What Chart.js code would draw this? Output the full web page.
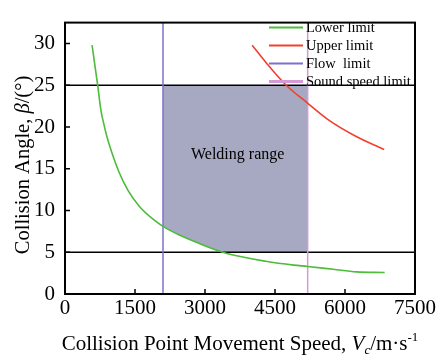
<!DOCTYPE html>
<html>
<head>
<meta charset="utf-8">
<script src="https://cdn.jsdelivr.net/npm/chart.js@4.4.1/dist/chart.umd.min.js"></script>
<style>
	html, body { margin: 0; padding: 0; background: #fff; }
	#wrap { width: 438px; height: 357px; }
</style>
</head>
<body>
<div id="wrap"><canvas id="lineChart"></canvas></div>
<script>
// valores
var lowerX = [580, 660, 700, 770, 830, 900, 1000, 1150, 1350, 1600, 1900, 2100, 2450, 2900, 3250, 3450, 4300, 4900, 5200, 5750, 6250, 6850];
var lowerY = [29.8, 26.6, 25.0, 22.0, 20.4, 18.8, 17.0, 14.7, 12.4, 10.45, 8.9, 8.1, 7.06, 6.0, 5.25, 4.87, 3.92, 3.46, 3.3, 2.96, 2.65, 2.57];
var upperX = [4010, 4310, 4740, 5190, 5660, 6230, 6840];
var upperY = [29.8, 27.7, 25.0, 22.9, 20.8, 18.9, 17.3];
var flowLimit = 2100;
var soundLimit = 5200;
var angleMin = 5;
var angleMax = 25;
var rangeX = [2100, 2450, 2900, 3250, 3420, 5200];
var rangeLow = [8.1, 7.06, 6.0, 5.25, 5.0, 5.0];
var xTicks = [0, 1500, 3000, 4500, 6000, 7500];
var yTicks = [0, 5, 10, 15, 20, 25, 30];
var labels = ['Lower limit', 'Upper limit', 'Flow  limit', 'Sound speed limit'];

var serif = '"Liberation Serif", "Times New Roman", serif';

function pts(xs, ys) {
	return xs.map(function (x, i) { return { x: x, y: ys[i] }; });
}

// texto com italico / indices
function richText(ctx, parts, x, y, size) {
	var w = 0;
	parts.forEach(function (p) {
		ctx.font = (p.it ? 'italic ' : '') + (p.small ? size * 0.62 : size) + 'px ' + serif;
		p.w = ctx.measureText(p.t).width;
		w += p.w;
	});
	var cx = x - w / 2;
	parts.forEach(function (p) {
		ctx.font = (p.it ? 'italic ' : '') + (p.small ? size * 0.62 : size) + 'px ' + serif;
		ctx.fillText(p.t, cx, y + (p.dy || 0));
		cx += p.w;
	});
}

var extras = {
	id: 'extras',
	afterDraw: function (chart) {
		var ctx = chart.ctx, a = chart.chartArea;
		var xs = chart.scales.x, ys = chart.scales.y;
		ctx.save();
		ctx.strokeStyle = '#000';
		ctx.lineWidth = 2;
		ctx.strokeRect(a.left, a.top, a.right - a.left, a.bottom - a.top);
		ctx.lineWidth = 1.5;
		ctx.beginPath();
		xTicks.slice(1, -1).forEach(function (v) {
			var p = xs.getPixelForValue(v);
			ctx.moveTo(p, a.bottom); ctx.lineTo(p, a.bottom - 5);
		});
		yTicks.slice(1).forEach(function (v) {
			var p = ys.getPixelForValue(v);
			ctx.moveTo(a.left, p); ctx.lineTo(a.left + 5, p);
		});
		ctx.stroke();

		// legenda
		ctx.textBaseline = 'middle';
		ctx.textAlign = 'left';
		ctx.font = '14.5px ' + serif;
		for (var i = 0; i < 4; i++) {
			var ds = chart.data.datasets[i];
			var y = a.top + 5 + i * 18;
			ctx.strokeStyle = ds.borderColor;
			ctx.lineWidth = i == 3 ? 3 : 2;
			ctx.beginPath();
			ctx.moveTo(a.right - 146, y); ctx.lineTo(a.right - 112, y);
			ctx.stroke();
			ctx.fillStyle = '#000';
			ctx.fillText(ds.label, a.right - 109, y + 1);
		}

		ctx.textAlign = 'center';
		ctx.font = '16px ' + serif;
		ctx.fillText('Welding range', xs.getPixelForValue(3700), ys.getPixelForValue(16.7));

		// titulos dos eixos
		ctx.textAlign = 'left';
		ctx.textBaseline = 'alphabetic';
		richText(ctx, [
			{ t: 'Collision Point Movement Speed, ' },
			{ t: 'V', it: true },
			{ t: 'c', it: true, small: true, dy: 4 },
			{ t: '/m\u00b7s' },
			{ t: '-1', small: true, dy: -9 }
		], 240, 350, 21);
		ctx.translate(29, 165);
		ctx.rotate(-Math.PI / 2);
		richText(ctx, [
			{ t: 'Collision Angle, ' },
			{ t: '\u03b2', it: true },
			{ t: '/(\u00b0)' }
		], 0, 0, 20.5);
		ctx.restore();
	}
};

window.onload = function () {
	var ctx = document.getElementById('lineChart').getContext('2d');
	new Chart(ctx, {
		type: 'line',
		data: {
			datasets: [{
				label: labels[0],
				data: pts(lowerX, lowerY),
				borderColor: '#4cbc3a',
				borderWidth: 1.6,
				cubicInterpolationMode: 'monotone'
			}, {
				label: labels[1],
				data: pts(upperX, upperY),
				borderColor: '#f2402e',
				borderWidth: 1.6,
				cubicInterpolationMode: 'monotone'
			}, {
				label: labels[2],
				data: [{ x: flowLimit, y: 0 }, { x: flowLimit, y: 40 }],
				borderColor: '#7e70cc',
				borderWidth: 1.5
			}, {
				label: labels[3],
				data: [{ x: soundLimit, y: 0 }, { x: soundLimit, y: 40 }],
				borderColor: '#d69ad6',
				borderWidth: 1.5
			}, {
				label: 'max',
				data: [{ x: 0, y: angleMax }, { x: 7500, y: angleMax }],
				borderColor: '#000',
				borderWidth: 1.5
			}, {
				label: 'min',
				data: [{ x: 0, y: angleMin }, { x: 7500, y: angleMin }],
				borderColor: '#000',
				borderWidth: 1.5
			}, {
				label: 'rangeTop',
				data: rangeX.map(function (x) { return { x: x, y: angleMax }; }),
				borderWidth: 0,
				borderColor: 'rgba(0,0,0,0)',
				backgroundColor: '#a6a9c1',
				fill: '+1',
				order: 5
			}, {
				label: 'rangeBottom',
				data: pts(rangeX, rangeLow),
				borderWidth: 0,
				borderColor: 'rgba(0,0,0,0)',
				order: 5
			}]
		},
		options: {
			animation: false,
			responsive: true,
			maintainAspectRatio: false,
			elements: { point: { radius: 0 }, line: { tension: 0 } },
			layout: { padding: { left: 0, right: 22, top: 12, bottom: 0 } },
			plugins: { legend: { display: false }, tooltip: { enabled: false } },
			scales: {
				x: {
					type: 'linear', min: 0, max: 7500,
					grid: { display: false, drawTicks: false },
					border: { display: false },
					ticks: {
						stepSize: 1500, padding: 2, color: '#000', maxRotation: 0,
						font: { family: serif, size: 21 },
						callback: function (v) { return String(v); }
					},
					afterFit: function (s) { s.height = 63; }
				},
				y: {
					min: 0, max: 32.5,
					grid: { display: false, drawTicks: false },
					border: { display: false },
					ticks: {
						stepSize: 5, padding: 10, color: '#000',
						font: { family: serif, size: 21 },
						callback: function (v) { return String(v); }
					},
					afterBuildTicks: function (s) { s.ticks = yTicks.map(function (v) { return { value: v }; }); },
					afterFit: function (s) { s.width = 65; }
				}
			}
		},
		plugins: [extras]
	});
};
</script>
</body>
</html>
